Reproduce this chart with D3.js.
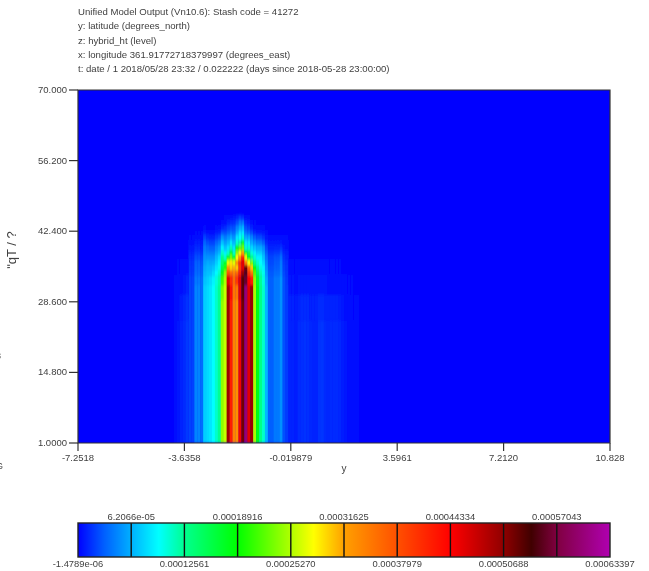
<!DOCTYPE html>
<html><head><meta charset="utf-8">
<style>html,body{margin:0;padding:0;background:#fff;overflow:hidden}svg{display:block}text{font-family:"Liberation Sans",Arial,sans-serif}</style>
<script src="https://cdn.jsdelivr.net/npm/d3@7/dist/d3.min.js"></script>
</head><body><div id="c"></div>
<script>
const titleLines = [
 "Unified Model Output (Vn10.6): Stash code = 41272",
 "y: latitude  (degrees_north)",
 "z: hybrid_ht (level)",
 "x: longitude 361.91772718379997 (degrees_east)",
 "t: date / 1 2018/05/28 23:32 / 0.022222 (days since 2018-05-28 23:00:00)"
];
const xTicks = [-7.2518,-3.6358,-0.019879,3.5961,7.2120,10.828];
const xTickLabels = ["-7.2518","-3.6358","-0.019879","3.5961","7.2120","10.828"];
const yTicks = [1,14.8,28.6,42.4,56.2,70];
const yTickLabels = ["1.0000","14.800","28.600","42.400","56.200","70.000"];
const cbTopTicks = [6.2066e-5,18.916e-5,31.625e-5,44.334e-5,57.043e-5];
const cbTopLabels = ["6.2066e-05","0.00018916","0.00031625","0.00044334","0.00057043"];
const cbBottomTicks = [-1.4789e-6,12.561e-5,25.270e-5,37.979e-5,50.688e-5,63.397e-5];
const cbBottomLabels = ["-1.4789e-06","0.00012561","0.00025270","0.00037979","0.00050688","0.00063397"];
const cbStops = [-0.148,3,6.2066,9.5,12.561,18.916,25.27,28,31.625,37.979,44.334,50.688,54,57.043,63.397];
const cbColors = ["#0000ff","#0060ff","#00b0ff","#00ffff","#00ff90","#00ff00","#b0ff00","#ffff00","#ffa000","#ff5000","#ff0000","#900000","#400000","#800040","#b000b0"];

// latitudes of the columns with vertical structure
const lats = [-3.45,-3.35,-3.25,-3.15,-3.05,-2.95,-2.85,-2.75,-2.65,-2.55,-2.45,-2.35,-2.25,-2.15,-2.05,-1.95,-1.85,-1.75,-1.65,-1.55,-1.45,-1.35,-1.25,-1.15,-1.05,-0.95,-0.85,-0.75,-0.65,-0.55,-0.45,-0.35,-0.25,-0.15];
// lower edges of the height bands (units of the y axis)
const levels = [1,29,31.9,33.8,34.8,35.8,36.8,37.8,38.7,39.7,40.7,41.7,42.6,43.6,44.6,45.6];
// values (x 1e-5), one row per band, one entry per latitude
const band = [
[2,2,4.5,4.5,3.5,7.5,8,8.5,9.5,11,12.5,24,26,50,42,34,33,45,52,60,46,50,25,18,13,11,6.5,3,3,4,4,5,2.5,1.8],
[2,2,4.5,4.5,3.5,7.5,8,8.5,9.5,11,12.5,23,26,50,43,35,35,46,53,60,46,50,25,18,13,11,6.5,3,3,4,4,5,2.5,1.8],
[2,2,4,4,3.5,7,7.5,8,9,10.5,12,21,25,46,41,36,40,46,53,56,44,42,24,17,12.5,10.5,6,3,3,4,4,5,2.5,1.7],
[1.8,1.8,3.5,3.5,3,6.5,7,7,8,9.5,11,18,24,38,36,34,36,42,50,55,40,35,22,15,11.5,10,5.5,2.8,2.8,3.5,3.5,4.5,2.2,1.6],
[1.6,1.6,3.2,3.2,2.8,6,6.5,6.5,7,8.5,10,16,20,33,30,31,30,40,46,52,36,30,19,13,10.5,9,5,2.5,2.5,3,3,4.2,2,1.5],
[1.5,1.5,3,3,2.5,5.5,6,5.8,6,7.5,9,14,17,27,29,27,33,41,46,34,28,23,13,11,9.5,8,4.5,2.2,2.2,2.8,2.8,4,1.8,1.4],
[1.2,1.2,2.4,2.4,2,5,5,5,5,6.5,8,13,11,18,23,18,28,33,42,27,18,13,11,9,9,7,3.8,2,2,2.5,2.5,3.5,1.5,1],
[.9,.9,1.8,1.8,1.4,4.5,4.2,4,4,5.5,6.5,11,9,11,17,11,24,28,32,18,15,10.5,9,7.5,7.5,6,3,1.5,1.5,1.8,1.8,2.5,1,.7],
[.6,.6,1.2,1.2,.9,4,3.5,3,3,4.5,5.5,9,7,8.5,11.5,8.5,18,22,23,11,11,8,7,6,6,5,2.2,1,1,1.1,1.1,1.5,.6,.4],
[.3,.3,.7,.7,.5,3.2,2.4,2,2,3.2,4,7,5.5,6.5,8.5,6.5,11,12,17,8.5,8.5,6,5,4,4,3,1.2,.5,.5,.5,.5,.6,.3,.2],
[.1,.1,.3,.3,.2,2,1.2,1,1,1.8,2.4,5,4,5,6,5,8.5,9.5,11,6,6,4.5,3,2.2,2.2,1.6,.6,.2,.2,.2,.2,.2,.1,.1],
[0,0,.1,.1,.1,.8,.4,.3,.3,.7,1,2.6,2.4,3.2,4,3.5,6,8.5,8.5,4,3.5,2.4,1.2,.8,.8,.5,.2,0,0,0,0,0,0,0],
[0,0,0,0,0,.1,0,0,0,.1,.2,1,1.2,2,2.5,2.5,4.5,6,6.5,2.5,2,1,.4,.2,.2,.1,0,0,0,0,0,0,0,0],
[0,0,0,0,0,0,0,0,0,0,0,.2,.4,.9,1.2,1.4,2.5,4,4,1.2,.8,.3,.1,0,0,0,0,0,0,0,0,0,0,0],
[0,0,0,0,0,0,0,0,0,0,0,0,.1,.2,.4,.5,.9,1.8,1.4,.3,.2,0,0,0,0,0,0,0,0,0,0,0,0,0]
];
// faint columns east and west of the main structure
const farLats = [-0.05,0.05,0.15,0.25,0.35,0.45,0.55,0.65,0.75,0.85,0.95,1.05,1.15,1.25,1.35,1.45,1.55,1.65,1.75,1.85,1.95,2.05,2.15,2.25];
const farLevels = [1,25,30,34,37];
const farBand = [
[1,1,.8,1.2,1.4,1.5,1.4,1.1,1,1,1.5,1.6,1.2,1.1,1.2,1.3,1.3,1.1,.8,.6,.4,.3,.2,.1],
[.9,.9,.7,1,1.2,1.2,1.2,.9,.9,.9,1.2,1.3,1,.9,1,1,1,.8,.6,.4,.3,.2,.1,.1],
[.5,.5,.4,.5,.6,.6,.6,.5,.5,.5,.6,.6,.5,.4,.4,.4,.4,.3,.3,.2,.1,.1,0,0],
[.2,.2,.1,.2,.2,.2,.2,.1,.1,.1,.2,.2,.1,.1,.1,.1,.1,.1,0,0,0,0,0,0]
];
const westLats = [-3.95,-3.85,-3.75,-3.65,-3.55];
const westBand = [
[.2,.5,.9,1.3,1.7],
[.2,.4,.7,1.1,1.5],
[.1,.2,.4,.6,.9],
[0,.1,.1,.2,.3]
];
const latStep = 0.1;

const W=649,H=571;
const m={l:78,r:610,t:90,b:443};
const x=d3.scaleLinear().domain([-7.2518,10.828]).range([m.l,m.r]);
const y=d3.scaleLinear().domain([1,70]).range([m.b,m.t]);
const color=d3.scaleLinear().domain(cbStops).range(cbColors).clamp(true);
const cbX=d3.scaleLinear().domain([-1.4789e-6,63.397e-5]).range([m.l,m.r]);
const txt="#3f3f3f";

const svg=d3.select("#c").append("svg").attr("width",W).attr("height",H);
const defs=svg.append("defs");
defs.append("clipPath").attr("id","plot").append("rect")
  .attr("x",m.l).attr("y",m.t).attr("width",m.r-m.l).attr("height",m.b-m.t);
const f1=defs.append("filter").attr("id","soft").attr("x","-5%").attr("y","-5%").attr("width","110%").attr("height","110%");
f1.append("feGaussianBlur").attr("stdDeviation","0.45 1.4");
const f2=defs.append("filter").attr("id","softText").attr("x","-5%").attr("y","-20%").attr("width","110%").attr("height","140%");
f2.append("feGaussianBlur").attr("stdDeviation","0.45");
const grad=defs.append("linearGradient").attr("id","cbGrad").attr("x1","0").attr("x2","1").attr("y1","0").attr("y2","0");
grad.selectAll("stop").data(cbStops).join("stop")
  .attr("offset",d=>(cbX(d*1e-5)-m.l)/(m.r-m.l)).attr("stop-color",(d,i)=>cbColors[i]);

// heat map
const plot=svg.append("g").attr("clip-path","url(#plot)");
plot.append("rect").attr("x",m.l).attr("y",m.t)
  .attr("width",m.r-m.l).attr("height",m.b-m.t).attr("fill",color(-0.148));
const heat=plot.append("g").attr("filter","url(#soft)");
const cells=[];
band.forEach((row,r)=>row.forEach((v,c)=>cells.push({lat:lats[c],lo:levels[r],hi:levels[r+1],v})));
farBand.forEach((row,r)=>row.forEach((v,c)=>cells.push({lat:farLats[c],lo:farLevels[r],hi:farLevels[r+1],v})));
westBand.forEach((row,r)=>row.forEach((v,c)=>cells.push({lat:westLats[c],lo:farLevels[r],hi:farLevels[r+1],v})));
heat.selectAll("rect.cell").data(cells.filter(d=>d.v>0)).join("rect").attr("class","cell")
  .attr("x",d=>x(d.lat-latStep/2)).attr("width",x(latStep)-x(0)+0.3)
  .attr("y",d=>y(d.hi)).attr("height",d=>y(d.lo)-y(d.hi)+0.3)
  .attr("fill",d=>color(d.v));

// axes
const axes=svg.append("g");
axes.append("path").attr("d",`M${m.l},${m.t}H${m.r}V${m.b}H${m.l}Z`).attr("fill","none").attr("stroke","#333").attr("stroke-width",1.2);
axes.selectAll("line.xt").data(xTicks).join("line").attr("class","xt")
  .attr("x1",d=>x(d)).attr("x2",d=>x(d)).attr("y1",m.b).attr("y2",m.b+8).attr("stroke","#333").attr("stroke-width",1.2);
axes.selectAll("line.yt").data(yTicks).join("line").attr("class","yt")
  .attr("x1",m.l-9).attr("x2",m.l).attr("y1",d=>y(d)).attr("y2",d=>y(d)).attr("stroke","#333").attr("stroke-width",1.2);

const labels=svg.append("g").attr("filter","url(#softText)").attr("fill",txt);
labels.selectAll("text.title").data(titleLines).join("text").attr("class","title")
  .attr("x",78).attr("y",(d,i)=>15+i*14.3).attr("font-size",9.6).text(d=>d);
labels.selectAll("text.xl").data(xTickLabels).join("text").attr("class","xl")
  .attr("x",(d,i)=>x(xTicks[i])).attr("y",461).attr("text-anchor","middle").attr("font-size",9.5).text(d=>d);
labels.selectAll("text.yl").data(yTickLabels).join("text").attr("class","yl")
  .attr("x",67).attr("y",(d,i)=>y(yTicks[i])+3).attr("text-anchor","end").attr("font-size",9.5).text(d=>d);
labels.append("text").attr("x",344).attr("y",472).attr("text-anchor","middle").attr("font-size",10).text("y");
labels.append("text").attr("transform","translate(16,250) rotate(-90)").attr("text-anchor","middle").attr("font-size",13).text("\u02BAqT / ?");
labels.append("text").attr("x",-4).attr("y",359).attr("font-size",9).text("3");
labels.append("text").attr("x",-4).attr("y",469).attr("font-size",9).text("G");

// colour bar
const cb={t:523,b:557};
svg.append("rect").attr("x",m.l).attr("y",cb.t).attr("width",m.r-m.l).attr("height",cb.b-cb.t).attr("fill","url(#cbGrad)");
svg.selectAll("line.cb").data(cbTopTicks.concat(cbBottomTicks.slice(1,5))).join("line").attr("class","cb")
  .attr("x1",d=>cbX(d)).attr("x2",d=>cbX(d)).attr("y1",cb.t).attr("y2",cb.b).attr("stroke","#111").attr("stroke-width",1.4);
svg.append("rect").attr("x",m.l).attr("y",cb.t).attr("width",m.r-m.l).attr("height",cb.b-cb.t).attr("fill","none").attr("stroke","#222").attr("stroke-width",1.4);
labels.selectAll("text.cbt").data(cbTopLabels).join("text").attr("class","cbt")
  .attr("x",(d,i)=>cbX(cbTopTicks[i])).attr("y",519.5).attr("text-anchor","middle").attr("font-size",9.4).text(d=>d);
labels.selectAll("text.cbb").data(cbBottomLabels).join("text").attr("class","cbb")
  .attr("x",(d,i)=>cbX(cbBottomTicks[i])).attr("y",567).attr("text-anchor","middle").attr("font-size",9.4).text(d=>d);
</script></body></html>
